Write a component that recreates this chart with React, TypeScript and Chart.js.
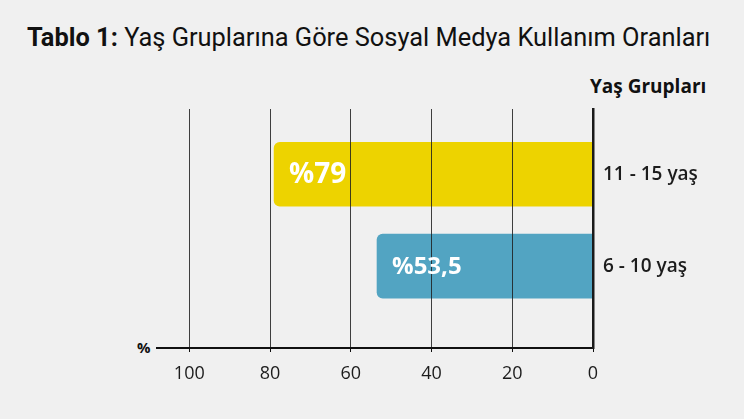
import React, { useEffect, useRef } from "react";
import { Chart, registerables } from "chart.js";

Chart.register(...registerables);

// ---- data ----
const categories = ["11 - 15 yaş", "6 - 10 yaş"];
const categoryPositions = [1, 2];
const values = [79, 53.5];
const valueLabels = ["%79", "%53,5"];
const xTickValues = [0, 20, 40, 60, 80, 100];

// ---- styles ----
const BAR_COLORS = ["#EDD300", "#52A4C2"];
const VALUE_LABEL_SIZES = [28, 24];
const FONT = "'Open Sans', sans-serif";

export default function App() {
  const ref = useRef<HTMLCanvasElement | null>(null);

  useEffect(() => {
    if (!ref.current) return;
    const valueLabelPlugin = {
      id: "valueLabels",
      afterDraw(chart: any) {
        const ctx = chart.ctx;
        const meta = chart.getDatasetMeta(0);
        ctx.save();
        ctx.fillStyle = "#ffffff";
        ctx.textBaseline = "middle";
        ctx.textAlign = "left";
        meta.data.forEach((el: any, i: number) => {
          ctx.font = `700 ${VALUE_LABEL_SIZES[i]}px ${FONT}`;
          ctx.fillText(valueLabels[i], el.x + 15, el.y + 1);
        });
        ctx.restore();
      },
    };

    const chart = new Chart(ref.current, {
      type: "bar",
      data: {
        datasets: [
          {
            data: values.map((v, i) => ({ x: v, y: categoryPositions[i] })) as any,
            backgroundColor: BAR_COLORS,
            borderRadius: 6,
            borderSkipped: "start",
            barThickness: 64,
          },
        ],
      },
      options: {
        indexAxis: "y",
        animation: false,
        responsive: false,
        maintainAspectRatio: false,
        layout: { padding: { left: 157, top: 109, right: 0, bottom: 0 } },
        plugins: {
          legend: { display: false },
          tooltip: { enabled: false },
          title: { display: false },
        },
        scales: {
          x: {
            type: "linear",
            reverse: true,
            min: 0,
            max: 108,
            offset: false,
            afterBuildTicks: (s: any) => {
              s.ticks = xTickValues.map((v) => ({ value: v }));
            },
            grid: {
              color: "rgba(30,30,30,0.85)",
              lineWidth: 1,
              drawTicks: true,
              tickLength: 4,
              tickColor: "#111",
              offset: false,
              z: 1,
            },
            border: { display: true, color: "#111", width: 2, z: 1 },
            ticks: {
              color: "#1c1c1c",
              font: { family: FONT, size: 18, weight: "500" },
              padding: 11,
            },
            afterFit: (s: any) => {
              s.height = 71;
            },
          },
          y: {
            type: "linear",
            position: "right",
            reverse: true,
            min: 0.29,
            max: 2.89,
            offset: false,
            afterBuildTicks: (s: any) => {
              s.ticks = categoryPositions.map((v) => ({ value: v }));
            },
            ticks: {
              callback: (v: any) => {
                const i = categoryPositions.indexOf(Number(v));
                return i >= 0 ? categories[i] : "";
              },
              color: "#1c1c1c",
              font: { family: FONT, size: 19, weight: "600" },
              padding: 10,
            },
            grid: { display: false, drawTicks: false, offset: false },
            border: { display: true, color: "#1a1a1a", width: 2.5, z: 1 },
            afterFit: (s: any) => {
              s.width = 151;
            },
          },
        },
      } as any,
      plugins: [valueLabelPlugin],
    });
    return () => chart.destroy();
  }, []);

  return (
    <div
      style={{
        position: "absolute",
        left: 0,
        top: 0,
        width: 744,
        height: 419,
        background: "#F0F0F0",
        overflow: "hidden",
      }}
    >
      <div
        style={{
          position: "absolute",
          left: 27,
          top: 25,
          fontFamily: "Roboto, sans-serif",
          fontSize: 25.4,
          lineHeight: 1,
          color: "#111",
          whiteSpace: "nowrap",
        }}
      >
        <span style={{ fontWeight: 700 }}>Tablo 1:</span> Yaş Gruplarına Göre Sosyal Medya Kullanım Oranları
      </div>
      <div
        style={{
          position: "absolute",
          left: 590,
          top: 77,
          fontFamily: FONT,
          fontSize: 19,
          fontWeight: 700,
          lineHeight: 1,
          color: "#111",
          whiteSpace: "nowrap",
        }}
      >
        Yaş Grupları
      </div>
      <div
        style={{
          position: "absolute",
          left: 137,
          top: 340,
          fontFamily: FONT,
          fontSize: 15,
          fontWeight: 700,
          lineHeight: 1,
          color: "#111",
        }}
      >
        %
      </div>
      <canvas ref={ref} width={744} height={419} style={{ position: "absolute", left: 0, top: 0 }} />
    </div>
  );
}
